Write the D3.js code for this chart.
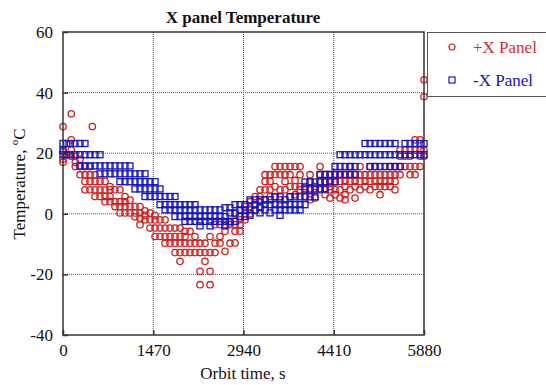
<!DOCTYPE html>
<html><head><meta charset="utf-8">
<script src="https://cdn.jsdelivr.net/npm/d3@7"></script>
<style>body{margin:0;background:#fff}svg{display:block}</style>
</head><body><svg id="c" width="546" height="385" font-family="'Liberation Serif', 'Times New Roman', serif"></svg>
<script>
const title = "X panel Temperature";
const xTicks = [0, 1470, 2940, 4410, 5880];
const yTicks = [-40, -20, 0, 20, 40, 60];
const seriesNames = ["+X Panel", "-X Panel"];
// +X panel: [orbit time s, temperature °C]
const plusX = [
[0,28.8],[0,20.5],[0,18],[0,17],[60,19.5],[135,33],[135,24.4],[135,21],[135,19],
[200,19],[200,17],[200,15.6],[277,18],[277,15.6],[277,12.9],
[358,15.6],[358,12.9],[358,10.7],[358,7.9],[440,15.6],[440,12.9],[440,10.7],[440,7.9],[478,28.8],
[521,12.9],[521,10.7],[521,7.9],[521,5.7],[603,10.7],[603,7.9],[603,5.7],
[684,10.7],[684,7.9],[684,5.7],[684,4],[766,9],[766,7.9],[766,5.7],[766,4],
[847,7.9],[847,4],[847,2.4],[928,7.9],[928,4],[928,2.4],[928,0.3],
[1010,5.7],[1010,4],[1010,2.4],[1010,0.3],[1091,4.5],[1091,2.4],[1091,0.3],
[1173,2.4],[1173,0.3],[1173,-1],[1254,2.4],[1254,0.3],[1254,-1.5],[1254,-3.6],
[1336,1],[1336,-0.5],[1336,-2],[1417,0.3],[1417,-2],[1417,-4.7],
[1499,-0.5],[1499,-2],[1499,-4.7],[1499,-7.5],[1580,-2],[1580,-4.7],[1580,-7.5],
[1662,-2],[1662,-4.7],[1662,-7.5],[1662,-9.7],[1743,-4.7],[1743,-7.5],[1743,-9.7],
[1824,-4.7],[1824,-7.5],[1824,-9.7],[1824,-12.8],[1906,-4.7],[1906,-7.5],[1906,-9.7],[1906,-12.8],[1906,-15.7],
[1987,-5.8],[1987,-7.5],[1987,-9.7],[1987,-12.8],[2069,-5.8],[2069,-9.7],[2069,-12.8],
[2150,-7.5],[2150,-9.7],[2150,-12.8],[2232,-9.7],[2232,-12.8],[2232,-19],[2232,-23.4],
[2313,-9.7],[2313,-12.8],[2313,-15.7],[2395,-7.5],[2395,-12.8],[2395,-19],[2395,-23.4],
[2476,-3.6],[2476,-9.7],[2476,-12.8],[2557,-3.6],[2557,-7.5],[2557,-9.7],
[2639,-3.6],[2639,-5.8],[2639,-12.4],[2720,-3],[2720,-3.6],[2720,-9.7],
[2802,0],[2802,-3.6],[2802,-5.8],[2802,-9.6],[2883,-2],[2883,-3.6],[2883,-5.8],
[2965,2.4],[2965,0],[2965,-2],[3046,4],[3046,2.4],[3046,0],[3128,5.7],[3128,3],[3128,1],
[3209,7.9],[3209,5.7],[3209,4],[3209,2.4],[3291,12.9],[3291,10.7],[3291,7.9],[3291,4.6],
[3372,12.9],[3372,10.7],[3372,7.9],[3372,5.7],[3454,15.6],[3454,12.9],[3454,9],[3454,5.7],
[3535,15.6],[3535,12.9],[3535,7.9],[3535,4.6],[3616,15.6],[3616,12.9],[3616,10.7],[3616,7.9],
[3698,15.6],[3698,12.9],[3698,9],[3698,5.7],[3780,15.6],[3780,11],[3780,9],[3780,6.3],
[3861,15.6],[3861,12.9],[3861,9],[3861,7.9],[3942,9],[3942,7.9],[3942,5.7],
[4024,12.9],[4024,10.7],[4024,7.9],[4024,4.6],[4105,9],[4105,7.9],[4105,5.2],
[4187,15.6],[4187,12.9],[4187,10.7],[4187,7.9],[4268,12.9],[4268,10.7],[4268,7.9],[4268,6.3],
[4349,12.9],[4349,10.7],[4349,9],[4349,7.9],[4349,5.2],[4431,12.9],[4431,10.7],[4431,7.9],[4431,6.3],
[4512,12.9],[4512,10.7],[4512,7.9],[4512,5.2],[4594,12.9],[4594,10.7],[4594,9],[4594,6.3],[4594,4.6],
[4675,15.6],[4675,12.9],[4675,10.7],[4675,7.9],[4757,12.9],[4757,10.7],[4757,9],[4757,5.2],
[4838,15.6],[4838,12.9],[4838,10.7],[4838,7.9],[4920,12.9],[4920,10.7],[4920,9],
[5001,15.6],[5001,12.9],[5001,10.7],[5001,7.9],[5082,15.6],[5082,12.9],[5082,10.7],[5082,9],
[5164,12.9],[5164,10.7],[5164,9],[5164,6.3],[5245,12.9],[5245,10.7],[5245,9],
[5327,15.6],[5327,12.9],[5327,10.7],[5327,9],[5408,15.6],[5408,12.9],[5408,10.7],[5408,7.9],
[5490,21],[5490,19],[5490,15.6],[5490,12.9],[5571,21],[5571,19],[5571,15.6],
[5653,21],[5653,19],[5653,15.6],[5653,12.9],[5734,24.4],[5734,21],[5734,15.6],[5734,12.9],
[5816,24.4],[5816,21],[5816,19],[5816,15.6],[5880,44.2],[5880,38.7],[5880,21],[5880,19]
];
// -X panel: [orbit time s, temperature °C]
const minusX = [
[0,23.2],[0,21],[0,19.5],[60,23.2],[60,19.5],[120,23.2],[120,19.5],[195,23.2],[195,19.5],
[277,23.2],[277,19.5],[277,15.8],[358,23.2],[358,19.5],[358,15.8],[440,19.5],[440,15.8],
[521,19.5],[521,15.8],[603,19.5],[603,15.8],[603,13.2],[684,15.8],[684,13.2],[766,15.8],[766,13.2],
[847,15.8],[847,13.2],[928,15.8],[928,13.2],[928,10.6],[1010,15.8],[1010,13.2],[1010,10.6],
[1091,15.8],[1091,13.2],[1091,10.6],[1173,13.2],[1173,10.6],[1173,8.2],[1254,13.2],[1254,10.6],[1254,8.2],
[1336,13.2],[1336,10.6],[1336,8.2],[1336,5.7],[1417,10.6],[1417,8.2],[1417,5.7],
[1499,10.6],[1499,8.2],[1499,5.7],[1580,8.2],[1580,5.7],[1580,3],[1662,5.7],[1662,3],[1662,1.3],
[1743,5.7],[1743,3],[1743,1.3],[1824,5.7],[1824,3],[1824,1.3],[1824,-0.9],
[1906,3],[1906,1.3],[1906,-0.9],[1987,3],[1987,1.3],[1987,-0.9],[1987,-2.5],
[2069,3],[2069,1.3],[2069,-0.9],[2069,-2.5],[2150,3],[2150,1.3],[2150,-0.9],[2150,-2.5],
[2232,1.3],[2232,-0.9],[2232,-2.5],[2232,-4],[2313,1.3],[2313,-0.9],[2313,-2.5],
[2395,1.3],[2395,-0.9],[2395,-2.5],[2395,-4],[2476,1.3],[2476,-0.9],[2476,-2.5],
[2557,1.3],[2557,-0.9],[2557,-2.5],[2639,2],[2639,-0.9],[2639,-2.5],[2639,-4],
[2720,2],[2720,0.3],[2720,-2.5],[2802,3],[2802,0.3],[2802,-2.5],[2883,3],[2883,1.3],[2883,-0.9],
[2965,3],[2965,1.3],[2965,-0.9],[3046,4.6],[3046,1.3],[3046,-0.5],[3128,4.6],[3128,3],[3128,1.3],
[3209,4.6],[3209,2],[3209,0.3],[3291,4.6],[3291,3],[3291,1.3],[3372,4.6],[3372,3],[3372,0.3],
[3454,5.6],[3454,3],[3454,1.3],[3535,5.6],[3535,3],[3535,1.3],[3535,-0.5],[3616,4.6],[3616,3],[3616,1.3],
[3698,5.6],[3698,3],[3698,1.3],[3780,5.6],[3780,3],[3780,1.3],[3861,5.6],[3861,3],[3861,1.3],
[3942,10.5],[3942,8.2],[3942,5.6],[3942,3],[4024,10.5],[4024,8.2],[4024,5.6],[4105,10.5],[4105,8.2],[4105,5.6],
[4187,13],[4187,10.5],[4187,8.2],[4268,13],[4268,10.5],[4268,8.2],[4349,13],[4349,10.5],
[4431,15.6],[4431,13],[4431,10.5],[4512,19.5],[4512,15.6],[4512,13],[4594,19.5],[4594,15.6],[4594,13],
[4675,19.5],[4675,15.6],[4675,13],[4757,19.5],[4757,15.6],[4757,13],[4838,19.5],
[4920,23.2],[4920,19.5],[5001,23.2],[5001,19.5],[5001,15.6],[5082,23.2],[5082,19.5],[5082,15.6],
[5164,23.2],[5164,19.5],[5164,15.6],[5245,23.2],[5245,19.5],[5245,15.6],[5327,23.2],[5327,19.5],[5327,15.6],
[5408,23.2],[5408,19.5],[5408,15.6],[5490,19.5],[5490,15.6],[5571,23.2],[5571,19.5],
[5653,23.2],[5653,19.5],[5734,23.2],[5734,19.5],[5816,23.2],[5816,19.5],[5880,23.2],[5880,19.5]
];

const FONT = "'Liberation Serif', 'Times New Roman', serif";
const red = "#cc1f1f", blue = "#1414c0";
const svg = d3.select("#c");
const L = 63, R = 424, T = 32, B = 335;
const x = d3.scaleLinear().domain([0, 5880]).range([L, R]);
const y = d3.scaleLinear().domain([-40, 60]).range([B, T]);

// grid
const g = svg.append("g");
g.selectAll(".vg").data(xTicks.slice(1, -1)).join("line")
  .attr("x1", d => x(d)).attr("x2", d => x(d)).attr("y1", T).attr("y2", B)
  .attr("stroke", "#444").attr("stroke-width", 1).attr("stroke-dasharray", "1,1");
g.selectAll(".hg").data(yTicks.slice(1, -1)).join("line")
  .attr("x1", L).attr("x2", R).attr("y1", d => y(d)).attr("y2", d => y(d))
  .attr("stroke", "#555").attr("stroke-width", 1).attr("stroke-dasharray", "1,1");

// points
svg.append("g").selectAll("circle").data(plusX).join("circle")
  .attr("cx", d => x(d[0])).attr("cy", d => y(d[1])).attr("r", 3.2)
  .attr("fill", "none").attr("stroke", red).attr("stroke-width", 1.3);
svg.append("g").selectAll("rect").data(minusX).join("rect")
  .attr("x", d => x(d[0]) - 3).attr("y", d => y(d[1]) - 3).attr("width", 6).attr("height", 6)
  .attr("fill", "none").attr("stroke", blue).attr("stroke-width", 1.3);

// axes
const ax = svg.append("g").attr("transform", `translate(0,${B})`)
  .call(d3.axisBottom(x).tickValues(xTicks).tickSizeInner(-5).tickSizeOuter(0).tickPadding(9).tickFormat(d => String(d)));
const ay = svg.append("g").attr("transform", `translate(${L},0)`)
  .call(d3.axisLeft(y).tickValues(yTicks).tickSizeInner(-5).tickSizeOuter(0).tickPadding(10).tickFormat(d => String(d)));
[ax, ay].forEach(a => {
  a.attr("font-family", FONT).attr("font-size", 17);
  a.select(".domain").remove();
  a.selectAll("line").attr("stroke", "#333").attr("stroke-width", 1.5);
  a.selectAll("text").attr("fill", "#111");
});
ax.selectAll("text").attr("dy", "0.71em");
svg.append("rect").attr("x", L).attr("y", T).attr("width", R - L).attr("height", B - T)
  .attr("fill", "none").attr("stroke", "#333").attr("stroke-width", 1.5);

// titles
svg.append("text").attr("x", 243).attr("y", 23).attr("text-anchor", "middle").attr("font-family", FONT)
  .attr("font-size", 17).attr("font-weight", "bold").attr("fill", "#111").text(title);
svg.append("text").attr("x", 243).attr("y", 379).attr("text-anchor", "middle").attr("font-family", FONT)
  .attr("font-size", 17).attr("fill", "#111").text("Orbit time, s");
const yt = svg.append("text").attr("transform", "translate(25,184) rotate(-90)").attr("font-family", FONT)
  .attr("text-anchor", "middle").attr("font-size", 17).attr("fill", "#111");
yt.append("tspan").text("Temperature, ");
yt.append("tspan").attr("font-size", 11).attr("dy", -7).text("o");
yt.append("tspan").attr("dy", 7).text("C");

// legend
const lg = svg.append("g").attr("font-family", FONT);
lg.append("rect").attr("x", 427.5).attr("y", 32.5).attr("width", 125).attr("height", 64)
  .attr("fill", "#fff").attr("stroke", "#555").attr("stroke-width", 1);
lg.append("circle").attr("cx", 452).attr("cy", 47).attr("r", 3)
  .attr("fill", "none").attr("stroke", red).attr("stroke-width", 1.2);
lg.append("rect").attr("x", 449).attr("y", 77).attr("width", 6).attr("height", 6)
  .attr("fill", "none").attr("stroke", blue).attr("stroke-width", 1.2);
lg.append("text").attr("x", 473).attr("y", 53).attr("font-size", 17).attr("fill", "#d03030").text(seriesNames[0]);
lg.append("text").attr("x", 473).attr("y", 86).attr("font-size", 17).attr("fill", blue).text(seriesNames[1]);
</script></body></html>
